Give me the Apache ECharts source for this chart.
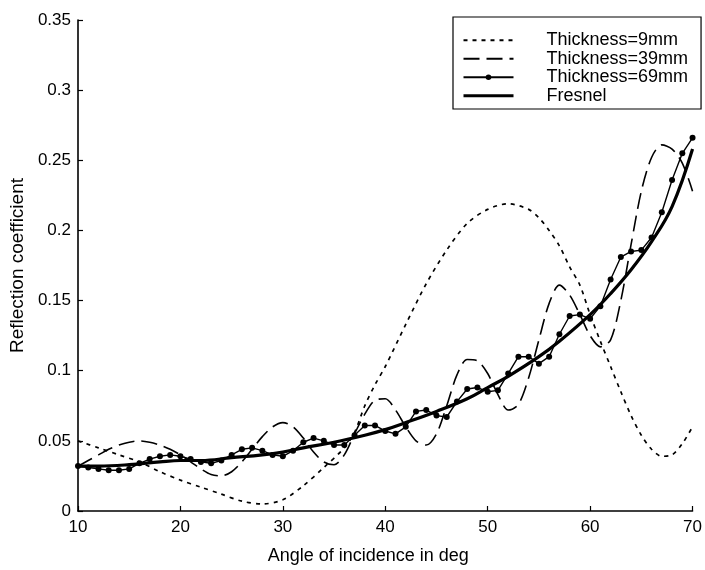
<!DOCTYPE html>
<html>
<head>
<meta charset="utf-8">
<script src="https://cdn.jsdelivr.net/npm/echarts@6/dist/echarts.min.js"></script>
<style>html,body{margin:0;padding:0;background:#fff}#c{width:705px;height:570px}</style>
</head>
<body>
<div id="c"></div>
<script>
const xTicks = [10, 20, 30, 40, 50, 60, 70];
const yTicks = [0, 0.05, 0.1, 0.15, 0.2, 0.25, 0.3, 0.35];

const anglesFresnel = [10,12,15,18,20,22,25,28,30,32,35,38,40,42,45,48,50,52,55,57,60,62,64,66,68,70];
const fresnel = [0.032,0.032,0.033,0.035,0.036,0.036,0.038,0.040,0.042,0.045,0.049,0.054,0.058,0.063,0.071,0.080,0.088,0.096,0.110,0.121,0.140,0.155,0.172,0.192,0.217,0.258];

const angles9 = [10,12,14,16,18,20,22,24,26,28,30,32,34,36,37,38,39,40,42,44,46,48,50,52,54,55,56,57,58,59,60,61,62,63,64,65,66,67,68,69,70];
const thick9 = [0.050,0.045,0.040,0.035,0.028,0.022,0.017,0.012,0.007,0.005,0.008,0.018,0.031,0.045,0.056,0.075,0.090,0.103,0.133,0.162,0.186,0.205,0.215,0.219,0.215,0.209,0.200,0.189,0.174,0.161,0.140,0.121,0.103,0.085,0.068,0.054,0.044,0.039,0.040,0.048,0.060];

const angles39 = [10,11,12,13,14,15,16,17,18,19,20,21,22,23,24,25,26,27,28,29,30,31,32,33,34,35,36,37,38,39,40,41,42,43,44,45,46,47,48,49,50,51,52,53,54,55,56,57,58,59,60,61,62,63,64,65,66,67,68,69,70];
const thick39 = [0.032,0.036,0.040,0.044,0.047,0.049,0.050,0.049,0.047,0.044,0.040,0.035,0.030,0.026,0.025,0.028,0.035,0.044,0.053,0.060,0.063,0.060,0.052,0.042,0.035,0.033,0.040,0.055,0.069,0.079,0.080,0.072,0.060,0.050,0.047,0.055,0.075,0.097,0.108,0.107,0.098,0.083,0.072,0.076,0.095,0.122,0.148,0.161,0.154,0.140,0.125,0.117,0.122,0.150,0.190,0.228,0.252,0.261,0.258,0.248,0.228];

const angles69 = angles39;
const thick69 = [0.032,0.031,0.030,0.029,0.029,0.030,0.034,0.037,0.039,0.040,0.039,0.037,0.035,0.034,0.036,0.040,0.044,0.045,0.043,0.040,0.039,0.043,0.049,0.052,0.050,0.047,0.047,0.054,0.061,0.061,0.057,0.055,0.060,0.071,0.072,0.068,0.067,0.078,0.087,0.088,0.085,0.086,0.098,0.110,0.110,0.105,0.110,0.126,0.139,0.140,0.137,0.146,0.165,0.181,0.185,0.186,0.195,0.213,0.236,0.255,0.266];

const pairs = (xs, ys) => xs.map((x, i) => [x, ys[i]]);
const font = 'Liberation Sans, Arial, sans-serif';
const hidden = {color: 'rgba(0,0,0,0)', borderWidth: 0};

const chart = echarts.init(document.getElementById('c'), null, {renderer: 'canvas'});
chart.setOption({
  animation: false,
  backgroundColor: '#fff',
  grid: {left: 77, right: 8, top: 20, bottom: 55, containLabel: false},
  xAxis: {
    type: 'value', min: 10, max: 70, interval: 10,
    name: 'Angle of incidence in deg', nameLocation: 'middle', nameGap: 36,
    nameTextStyle: {color: '#000', fontSize: 18, fontFamily: font, padding: [0, 34, 0, 0]},
    axisLine: {show: true, onZero: false, lineStyle: {color: '#000', width: 1.6}},
    axisTick: {show: true, inside: true, length: 5, lineStyle: {color: '#000', width: 1.2}},
    axisLabel: {color: '#000', fontSize: 17, fontFamily: font, margin: 8,
      formatter: v => xTicks.includes(v) ? String(v) : ''},
    splitLine: {show: false}
  },
  yAxis: {
    type: 'value', min: 0, max: 0.35, interval: 0.05,
    name: 'Reflection coefficient', nameLocation: 'middle', nameGap: 48,
    nameTextStyle: {color: '#000', fontSize: 19, fontFamily: font},
    axisLine: {show: true, onZero: false, lineStyle: {color: '#000', width: 1.6}},
    axisTick: {show: true, inside: true, length: 5, lineStyle: {color: '#000', width: 1.2}},
    axisLabel: {color: '#000', fontSize: 17, fontFamily: font, margin: 7,
      formatter: v => { const t = yTicks.find(y => Math.abs(y - v) < 1e-9); return t === undefined ? '' : String(t); }},
    splitLine: {show: false}
  },
  legend: {
    left: 453, top: 17, orient: 'vertical',
    backgroundColor: '#fff',
    borderColor: '#000', borderWidth: 1.2,
    padding: [14, 13, 4, 9],
    itemWidth: 50, itemHeight: 7, itemGap: 0,
    textStyle: {color: '#000', fontSize: 18, lineHeight: 18.5, fontFamily: font, padding: [0, 0, 0, 28]},
    data: [
      {name: 'Thickness=9mm', itemStyle: hidden},
      {name: 'Thickness=39mm', itemStyle: hidden},
      {name: 'Thickness=69mm'},
      {name: 'Fresnel', itemStyle: hidden, lineStyle: {width: 3}}
    ]
  },
  series: [
    {
      name: 'Thickness=9mm', type: 'line', data: pairs(angles9, thick9),
      symbol: 'none', smooth: 0.3,
      lineStyle: {color: '#000', width: 1.7, type: [4, 5]},
      itemStyle: {color: '#000'}
    },
    {
      name: 'Thickness=39mm', type: 'line', data: pairs(angles39, thick39),
      symbol: 'none', smooth: 0.3,
      lineStyle: {color: '#000', width: 1.6, type: [16, 7]},
      itemStyle: {color: '#000'}
    },
    {
      name: 'Thickness=69mm', type: 'line', data: pairs(angles69, thick69),
      symbol: 'circle', symbolSize: 6, showSymbol: true,
      lineStyle: {color: '#000', width: 1.4},
      itemStyle: {color: '#000'}
    },
    {
      name: 'Fresnel', type: 'line', data: pairs(anglesFresnel, fresnel),
      symbol: 'none', smooth: 0.4,
      lineStyle: {color: '#000', width: 3.2},
      itemStyle: {color: '#000'}
    }
  ]
});
</script>
</body>
</html>
